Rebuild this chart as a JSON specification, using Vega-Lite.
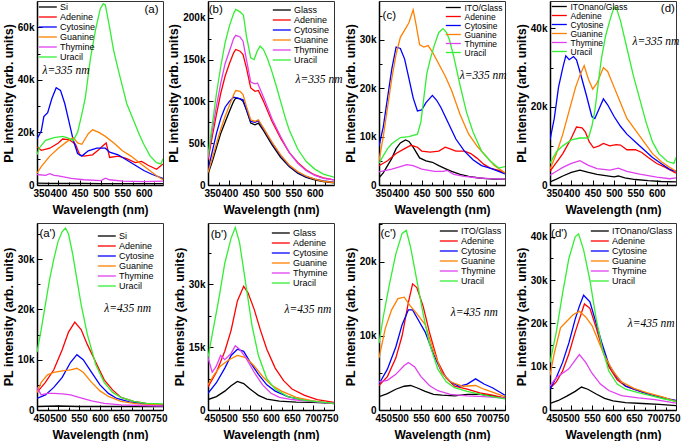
{
"$schema":"https://vega.github.io/schema/vega-lite/v6.json",
"padding":{"left":1,"top":0,"right":0,"bottom":0},
"background":"white",
"config":{
 "font":"Liberation Sans",
 "view":{"stroke":"#333","strokeWidth":1},
 "axis":{"domainColor":"#000","domainWidth":1.5,"tickColor":"#000","tickWidth":1,"tickCount":40,"labelFont":"Liberation Sans","labelFontWeight":"bold","labelFontSize":10,"labelColor":"#000","titleFont":"Liberation Sans","titleFontWeight":"bold","titleColor":"#000","grid":false,"labelOverlap":false,"labelPadding":8},
 "axisX":{"titleFontSize":12,"titlePadding":4,"labelFlush":true,"labelFlushOffset":4},
 "axisY":{"titleFontSize":12.5,"titlePadding":2},
 "legend":{"title":null,"symbolStrokeWidth":1.5,"labelFont":"Liberation Sans","labelFontSize":9,"labelColor":"#000","rowPadding":0,"padding":0},
 "line":{"strokeWidth":1.3},
 "text":{"font":"Liberation Sans","fontSize":11.5,"color":"#000"}
},
"datasets":{
"a":[
{"s":"Si","x":350,"y":700},{"s":"Si","x":380,"y":650},{"s":"Si","x":420,"y":600},{"s":"Si","x":460,"y":600},{"s":"Si","x":500,"y":550},{"s":"Si","x":540,"y":500},{"s":"Si","x":580,"y":500},{"s":"Si","x":620,"y":500},{"s":"Si","x":645,"y":500},
{"s":"Adenine","x":350,"y":14500},{"s":"Adenine","x":360,"y":13200},{"s":"Adenine","x":380,"y":14000},{"s":"Adenine","x":400,"y":16000},{"s":"Adenine","x":410,"y":17500},{"s":"Adenine","x":425,"y":17300},{"s":"Adenine","x":440,"y":15500},{"s":"Adenine","x":450,"y":11500},{"s":"Adenine","x":460,"y":11000},{"s":"Adenine","x":480,"y":11500},{"s":"Adenine","x":495,"y":13500},{"s":"Adenine","x":505,"y":15000},{"s":"Adenine","x":512,"y":16000},{"s":"Adenine","x":520,"y":10500},{"s":"Adenine","x":540,"y":11000},{"s":"Adenine","x":560,"y":10000},{"s":"Adenine","x":580,"y":8500},{"s":"Adenine","x":595,"y":9000},{"s":"Adenine","x":610,"y":7500},{"s":"Adenine","x":630,"y":6000},{"s":"Adenine","x":645,"y":8000},
{"s":"Cytosine","x":350,"y":17500},{"s":"Cytosine","x":360,"y":20500},{"s":"Cytosine","x":366,"y":26000},{"s":"Cytosine","x":375,"y":27500},{"s":"Cytosine","x":385,"y":33000},{"s":"Cytosine","x":395,"y":37000},{"s":"Cytosine","x":405,"y":36000},{"s":"Cytosine","x":415,"y":31000},{"s":"Cytosine","x":425,"y":24000},{"s":"Cytosine","x":435,"y":17000},{"s":"Cytosine","x":445,"y":12000},{"s":"Cytosine","x":455,"y":11000},{"s":"Cytosine","x":470,"y":13000},{"s":"Cytosine","x":490,"y":14000},{"s":"Cytosine","x":510,"y":14000},{"s":"Cytosine","x":520,"y":12500},{"s":"Cytosine","x":540,"y":11500},{"s":"Cytosine","x":560,"y":9500},{"s":"Cytosine","x":580,"y":7500},{"s":"Cytosine","x":600,"y":5500},{"s":"Cytosine","x":620,"y":4000},{"s":"Cytosine","x":645,"y":2500},
{"s":"Guanine","x":350,"y":4500},{"s":"Guanine","x":360,"y":7000},{"s":"Guanine","x":380,"y":11000},{"s":"Guanine","x":400,"y":14000},{"s":"Guanine","x":420,"y":16500},{"s":"Guanine","x":435,"y":18000},{"s":"Guanine","x":445,"y":16000},{"s":"Guanine","x":455,"y":15500},{"s":"Guanine","x":470,"y":19500},{"s":"Guanine","x":480,"y":21000},{"s":"Guanine","x":495,"y":20000},{"s":"Guanine","x":510,"y":18500},{"s":"Guanine","x":530,"y":16000},{"s":"Guanine","x":550,"y":13000},{"s":"Guanine","x":570,"y":11000},{"s":"Guanine","x":590,"y":8500},{"s":"Guanine","x":610,"y":6000},{"s":"Guanine","x":630,"y":3500},{"s":"Guanine","x":645,"y":2000},
{"s":"Thymine","x":350,"y":4000},{"s":"Thymine","x":370,"y":3700},{"s":"Thymine","x":380,"y":4300},{"s":"Thymine","x":390,"y":3700},{"s":"Thymine","x":400,"y":3500},{"s":"Thymine","x":430,"y":2500},{"s":"Thymine","x":460,"y":2000},{"s":"Thymine","x":500,"y":1700},{"s":"Thymine","x":510,"y":2600},{"s":"Thymine","x":520,"y":2000},{"s":"Thymine","x":550,"y":1500},{"s":"Thymine","x":600,"y":1300},{"s":"Thymine","x":645,"y":1500},
{"s":"Uracil","x":350,"y":11500},{"s":"Uracil","x":355,"y":14000},{"s":"Uracil","x":370,"y":17000},{"s":"Uracil","x":390,"y":18000},{"s":"Uracil","x":410,"y":18500},{"s":"Uracil","x":420,"y":18000},{"s":"Uracil","x":435,"y":17000},{"s":"Uracil","x":445,"y":20000},{"s":"Uracil","x":455,"y":27000},{"s":"Uracil","x":463,"y":33000},{"s":"Uracil","x":475,"y":48000},{"s":"Uracil","x":487,"y":59000},{"s":"Uracil","x":498,"y":67000},{"s":"Uracil","x":505,"y":69000},{"s":"Uracil","x":510,"y":68500},{"s":"Uracil","x":520,"y":60000},{"s":"Uracil","x":529,"y":51500},{"s":"Uracil","x":540,"y":44000},{"s":"Uracil","x":550,"y":37500},{"s":"Uracil","x":560,"y":31000},{"s":"Uracil","x":575,"y":25000},{"s":"Uracil","x":590,"y":19000},{"s":"Uracil","x":600,"y":15500},{"s":"Uracil","x":615,"y":11000},{"s":"Uracil","x":630,"y":8500},{"s":"Uracil","x":640,"y":8000},{"s":"Uracil","x":645,"y":10000}
],
"b":[
{"s":"Glass","x":350,"y":13000},{"s":"Glass","x":360,"y":28000},{"s":"Glass","x":370,"y":45000},{"s":"Glass","x":380,"y":62000},{"s":"Glass","x":390,"y":75000},{"s":"Glass","x":400,"y":88000},{"s":"Glass","x":410,"y":100000},{"s":"Glass","x":415,"y":104000},{"s":"Glass","x":425,"y":103000},{"s":"Glass","x":432,"y":100000},{"s":"Glass","x":440,"y":90000},{"s":"Glass","x":450,"y":74000},{"s":"Glass","x":460,"y":72000},{"s":"Glass","x":468,"y":74000},{"s":"Glass","x":480,"y":65000},{"s":"Glass","x":500,"y":48000},{"s":"Glass","x":520,"y":33000},{"s":"Glass","x":540,"y":22000},{"s":"Glass","x":560,"y":14000},{"s":"Glass","x":580,"y":9000},{"s":"Glass","x":600,"y":6000},{"s":"Glass","x":620,"y":4000},{"s":"Glass","x":645,"y":2500},
{"s":"Adenine","x":350,"y":30000},{"s":"Adenine","x":360,"y":58000},{"s":"Adenine","x":370,"y":85000},{"s":"Adenine","x":380,"y":110000},{"s":"Adenine","x":390,"y":130000},{"s":"Adenine","x":400,"y":145000},{"s":"Adenine","x":410,"y":158000},{"s":"Adenine","x":415,"y":162000},{"s":"Adenine","x":425,"y":160000},{"s":"Adenine","x":432,"y":156000},{"s":"Adenine","x":440,"y":140000},{"s":"Adenine","x":450,"y":116000},{"s":"Adenine","x":460,"y":112000},{"s":"Adenine","x":468,"y":113000},{"s":"Adenine","x":480,"y":100000},{"s":"Adenine","x":500,"y":76000},{"s":"Adenine","x":520,"y":56000},{"s":"Adenine","x":540,"y":39000},{"s":"Adenine","x":560,"y":27000},{"s":"Adenine","x":580,"y":18000},{"s":"Adenine","x":600,"y":12000},{"s":"Adenine","x":620,"y":8500},{"s":"Adenine","x":645,"y":6000},
{"s":"Cytosine","x":350,"y":18000},{"s":"Cytosine","x":360,"y":40000},{"s":"Cytosine","x":370,"y":62000},{"s":"Cytosine","x":380,"y":80000},{"s":"Cytosine","x":390,"y":93000},{"s":"Cytosine","x":400,"y":100000},{"s":"Cytosine","x":410,"y":105000},{"s":"Cytosine","x":420,"y":104000},{"s":"Cytosine","x":432,"y":102000},{"s":"Cytosine","x":440,"y":90000},{"s":"Cytosine","x":450,"y":76000},{"s":"Cytosine","x":460,"y":75000},{"s":"Cytosine","x":468,"y":77000},{"s":"Cytosine","x":480,"y":67000},{"s":"Cytosine","x":500,"y":50000},{"s":"Cytosine","x":520,"y":35000},{"s":"Cytosine","x":540,"y":23000},{"s":"Cytosine","x":560,"y":15000},{"s":"Cytosine","x":580,"y":10000},{"s":"Cytosine","x":600,"y":7000},{"s":"Cytosine","x":620,"y":5000},{"s":"Cytosine","x":645,"y":3500},
{"s":"Guanine","x":350,"y":15000},{"s":"Guanine","x":360,"y":32000},{"s":"Guanine","x":370,"y":50000},{"s":"Guanine","x":380,"y":67000},{"s":"Guanine","x":390,"y":82000},{"s":"Guanine","x":400,"y":95000},{"s":"Guanine","x":410,"y":108000},{"s":"Guanine","x":415,"y":113000},{"s":"Guanine","x":425,"y":112000},{"s":"Guanine","x":432,"y":108000},{"s":"Guanine","x":440,"y":94000},{"s":"Guanine","x":450,"y":78000},{"s":"Guanine","x":460,"y":76000},{"s":"Guanine","x":468,"y":78000},{"s":"Guanine","x":480,"y":68000},{"s":"Guanine","x":500,"y":51000},{"s":"Guanine","x":520,"y":36000},{"s":"Guanine","x":540,"y":24000},{"s":"Guanine","x":560,"y":16000},{"s":"Guanine","x":580,"y":10500},{"s":"Guanine","x":600,"y":7000},{"s":"Guanine","x":620,"y":4500},{"s":"Guanine","x":645,"y":3000},
{"s":"Thymine","x":350,"y":32000},{"s":"Thymine","x":360,"y":65000},{"s":"Thymine","x":370,"y":95000},{"s":"Thymine","x":380,"y":122000},{"s":"Thymine","x":390,"y":145000},{"s":"Thymine","x":400,"y":160000},{"s":"Thymine","x":410,"y":175000},{"s":"Thymine","x":415,"y":179000},{"s":"Thymine","x":425,"y":177000},{"s":"Thymine","x":432,"y":172000},{"s":"Thymine","x":440,"y":150000},{"s":"Thymine","x":450,"y":123000},{"s":"Thymine","x":460,"y":121000},{"s":"Thymine","x":466,"y":122000},{"s":"Thymine","x":480,"y":105000},{"s":"Thymine","x":500,"y":79000},{"s":"Thymine","x":520,"y":58000},{"s":"Thymine","x":540,"y":39000},{"s":"Thymine","x":560,"y":26000},{"s":"Thymine","x":580,"y":17000},{"s":"Thymine","x":600,"y":11500},{"s":"Thymine","x":620,"y":8000},{"s":"Thymine","x":645,"y":6000},
{"s":"Uracil","x":350,"y":35000},{"s":"Uracil","x":360,"y":72000},{"s":"Uracil","x":370,"y":110000},{"s":"Uracil","x":380,"y":142000},{"s":"Uracil","x":390,"y":170000},{"s":"Uracil","x":400,"y":190000},{"s":"Uracil","x":410,"y":205000},{"s":"Uracil","x":415,"y":210000},{"s":"Uracil","x":425,"y":207000},{"s":"Uracil","x":433,"y":203000},{"s":"Uracil","x":440,"y":178000},{"s":"Uracil","x":450,"y":152000},{"s":"Uracil","x":458,"y":150000},{"s":"Uracil","x":465,"y":160000},{"s":"Uracil","x":472,"y":166000},{"s":"Uracil","x":480,"y":162000},{"s":"Uracil","x":490,"y":150000},{"s":"Uracil","x":500,"y":135000},{"s":"Uracil","x":510,"y":118000},{"s":"Uracil","x":520,"y":100000},{"s":"Uracil","x":530,"y":82000},{"s":"Uracil","x":540,"y":66000},{"s":"Uracil","x":560,"y":43000},{"s":"Uracil","x":580,"y":28000},{"s":"Uracil","x":600,"y":19000},{"s":"Uracil","x":620,"y":13000},{"s":"Uracil","x":645,"y":9500}
],
"c":[
{"s":"ITO/Glass","x":350,"y":1500},{"s":"ITO/Glass","x":360,"y":2500},{"s":"ITO/Glass","x":370,"y":4000},{"s":"ITO/Glass","x":380,"y":5500},{"s":"ITO/Glass","x":390,"y":7500},{"s":"ITO/Glass","x":400,"y":8700},{"s":"ITO/Glass","x":412,"y":9300},{"s":"ITO/Glass","x":420,"y":9000},{"s":"ITO/Glass","x":430,"y":7800},{"s":"ITO/Glass","x":445,"y":5600},{"s":"ITO/Glass","x":460,"y":5000},{"s":"ITO/Glass","x":475,"y":4700},{"s":"ITO/Glass","x":490,"y":4000},{"s":"ITO/Glass","x":505,"y":3400},{"s":"ITO/Glass","x":520,"y":2800},{"s":"ITO/Glass","x":540,"y":2200},{"s":"ITO/Glass","x":560,"y":1800},{"s":"ITO/Glass","x":580,"y":1500},{"s":"ITO/Glass","x":600,"y":1300},{"s":"ITO/Glass","x":620,"y":1200},{"s":"ITO/Glass","x":645,"y":1200},
{"s":"Adenine","x":350,"y":4000},{"s":"Adenine","x":360,"y":4500},{"s":"Adenine","x":370,"y":5000},{"s":"Adenine","x":390,"y":6500},{"s":"Adenine","x":410,"y":7500},{"s":"Adenine","x":425,"y":8200},{"s":"Adenine","x":440,"y":7800},{"s":"Adenine","x":450,"y":7000},{"s":"Adenine","x":470,"y":6800},{"s":"Adenine","x":490,"y":7000},{"s":"Adenine","x":505,"y":7800},{"s":"Adenine","x":515,"y":7500},{"s":"Adenine","x":530,"y":7000},{"s":"Adenine","x":550,"y":7000},{"s":"Adenine","x":565,"y":6500},{"s":"Adenine","x":580,"y":5500},{"s":"Adenine","x":595,"y":4300},{"s":"Adenine","x":610,"y":3500},{"s":"Adenine","x":630,"y":3000},{"s":"Adenine","x":645,"y":2500},
{"s":"Cytosine","x":350,"y":8000},{"s":"Cytosine","x":360,"y":12000},{"s":"Cytosine","x":370,"y":18000},{"s":"Cytosine","x":380,"y":24000},{"s":"Cytosine","x":390,"y":28500},{"s":"Cytosine","x":400,"y":28200},{"s":"Cytosine","x":410,"y":26000},{"s":"Cytosine","x":420,"y":22000},{"s":"Cytosine","x":430,"y":18000},{"s":"Cytosine","x":440,"y":15300},{"s":"Cytosine","x":450,"y":15500},{"s":"Cytosine","x":460,"y":17000},{"s":"Cytosine","x":475,"y":18500},{"s":"Cytosine","x":485,"y":17500},{"s":"Cytosine","x":495,"y":16000},{"s":"Cytosine","x":510,"y":13200},{"s":"Cytosine","x":530,"y":9500},{"s":"Cytosine","x":550,"y":7000},{"s":"Cytosine","x":570,"y":5200},{"s":"Cytosine","x":590,"y":4000},{"s":"Cytosine","x":610,"y":3500},{"s":"Cytosine","x":630,"y":2800},{"s":"Cytosine","x":645,"y":2300},
{"s":"Guanine","x":350,"y":5000},{"s":"Guanine","x":360,"y":10000},{"s":"Guanine","x":370,"y":16000},{"s":"Guanine","x":380,"y":22000},{"s":"Guanine","x":390,"y":27000},{"s":"Guanine","x":400,"y":30500},{"s":"Guanine","x":410,"y":32000},{"s":"Guanine","x":420,"y":33500},{"s":"Guanine","x":430,"y":36200},{"s":"Guanine","x":437,"y":33000},{"s":"Guanine","x":445,"y":29000},{"s":"Guanine","x":455,"y":28500},{"s":"Guanine","x":465,"y":28800},{"s":"Guanine","x":475,"y":27500},{"s":"Guanine","x":490,"y":25000},{"s":"Guanine","x":505,"y":22500},{"s":"Guanine","x":520,"y":19500},{"s":"Guanine","x":540,"y":14500},{"s":"Guanine","x":560,"y":10500},{"s":"Guanine","x":580,"y":8000},{"s":"Guanine","x":600,"y":6000},{"s":"Guanine","x":620,"y":4000},{"s":"Guanine","x":645,"y":2500},
{"s":"Thymine","x":350,"y":2700},{"s":"Thymine","x":380,"y":3300},{"s":"Thymine","x":400,"y":3800},{"s":"Thymine","x":415,"y":4200},{"s":"Thymine","x":430,"y":4000},{"s":"Thymine","x":450,"y":3300},{"s":"Thymine","x":480,"y":2800},{"s":"Thymine","x":500,"y":2800},{"s":"Thymine","x":510,"y":3000},{"s":"Thymine","x":525,"y":2200},{"s":"Thymine","x":550,"y":1800},{"s":"Thymine","x":580,"y":1500},{"s":"Thymine","x":610,"y":1300},{"s":"Thymine","x":645,"y":1200},
{"s":"Uracil","x":350,"y":4500},{"s":"Uracil","x":360,"y":6000},{"s":"Uracil","x":370,"y":7500},{"s":"Uracil","x":380,"y":8500},{"s":"Uracil","x":400,"y":9800},{"s":"Uracil","x":420,"y":10000},{"s":"Uracil","x":440,"y":10500},{"s":"Uracil","x":448,"y":13000},{"s":"Uracil","x":455,"y":18000},{"s":"Uracil","x":462,"y":23000},{"s":"Uracil","x":470,"y":26000},{"s":"Uracil","x":480,"y":29000},{"s":"Uracil","x":490,"y":31500},{"s":"Uracil","x":500,"y":32300},{"s":"Uracil","x":508,"y":31500},{"s":"Uracil","x":515,"y":30000},{"s":"Uracil","x":525,"y":26500},{"s":"Uracil","x":540,"y":20500},{"s":"Uracil","x":555,"y":15000},{"s":"Uracil","x":570,"y":11000},{"s":"Uracil","x":590,"y":7000},{"s":"Uracil","x":610,"y":5000},{"s":"Uracil","x":630,"y":3500},{"s":"Uracil","x":645,"y":3800}
],
"d":[
{"s":"ITOnano/Glass","x":350,"y":800},{"s":"ITOnano/Glass","x":365,"y":1500},{"s":"ITOnano/Glass","x":380,"y":2300},{"s":"ITOnano/Glass","x":400,"y":3200},{"s":"ITOnano/Glass","x":420,"y":3800},{"s":"ITOnano/Glass","x":440,"y":3200},{"s":"ITOnano/Glass","x":460,"y":2700},{"s":"ITOnano/Glass","x":480,"y":2400},{"s":"ITOnano/Glass","x":500,"y":2100},{"s":"ITOnano/Glass","x":510,"y":2300},{"s":"ITOnano/Glass","x":525,"y":1800},{"s":"ITOnano/Glass","x":550,"y":1400},{"s":"ITOnano/Glass","x":580,"y":1100},{"s":"ITOnano/Glass","x":610,"y":900},{"s":"ITOnano/Glass","x":645,"y":800},
{"s":"Adenine","x":350,"y":3500},{"s":"Adenine","x":360,"y":5000},{"s":"Adenine","x":370,"y":6500},{"s":"Adenine","x":380,"y":8000},{"s":"Adenine","x":390,"y":10000},{"s":"Adenine","x":400,"y":12000},{"s":"Adenine","x":412,"y":14800},{"s":"Adenine","x":425,"y":14600},{"s":"Adenine","x":433,"y":13500},{"s":"Adenine","x":442,"y":11000},{"s":"Adenine","x":452,"y":9500},{"s":"Adenine","x":465,"y":10000},{"s":"Adenine","x":475,"y":10600},{"s":"Adenine","x":490,"y":10000},{"s":"Adenine","x":505,"y":10300},{"s":"Adenine","x":515,"y":10200},{"s":"Adenine","x":530,"y":9000},{"s":"Adenine","x":550,"y":9000},{"s":"Adenine","x":565,"y":8300},{"s":"Adenine","x":580,"y":7000},{"s":"Adenine","x":600,"y":5500},{"s":"Adenine","x":620,"y":4500},{"s":"Adenine","x":645,"y":3000},
{"s":"Cytosine","x":350,"y":11500},{"s":"Cytosine","x":360,"y":17000},{"s":"Cytosine","x":370,"y":25000},{"s":"Cytosine","x":380,"y":30000},{"s":"Cytosine","x":387,"y":33000},{"s":"Cytosine","x":395,"y":32000},{"s":"Cytosine","x":405,"y":32800},{"s":"Cytosine","x":412,"y":32000},{"s":"Cytosine","x":420,"y":29000},{"s":"Cytosine","x":435,"y":23000},{"s":"Cytosine","x":448,"y":17500},{"s":"Cytosine","x":455,"y":17000},{"s":"Cytosine","x":465,"y":19500},{"s":"Cytosine","x":475,"y":22000},{"s":"Cytosine","x":485,"y":20500},{"s":"Cytosine","x":500,"y":17500},{"s":"Cytosine","x":515,"y":15000},{"s":"Cytosine","x":530,"y":13000},{"s":"Cytosine","x":550,"y":11000},{"s":"Cytosine","x":570,"y":9000},{"s":"Cytosine","x":590,"y":7000},{"s":"Cytosine","x":610,"y":5500},{"s":"Cytosine","x":630,"y":4000},{"s":"Cytosine","x":645,"y":3500},
{"s":"Guanine","x":350,"y":4000},{"s":"Guanine","x":365,"y":8000},{"s":"Guanine","x":380,"y":13000},{"s":"Guanine","x":395,"y":19000},{"s":"Guanine","x":410,"y":25000},{"s":"Guanine","x":420,"y":28000},{"s":"Guanine","x":430,"y":30500},{"s":"Guanine","x":440,"y":27000},{"s":"Guanine","x":450,"y":24500},{"s":"Guanine","x":460,"y":26000},{"s":"Guanine","x":475,"y":30000},{"s":"Guanine","x":485,"y":29000},{"s":"Guanine","x":500,"y":25000},{"s":"Guanine","x":515,"y":21000},{"s":"Guanine","x":530,"y":17000},{"s":"Guanine","x":550,"y":14000},{"s":"Guanine","x":570,"y":11000},{"s":"Guanine","x":590,"y":8000},{"s":"Guanine","x":610,"y":6000},{"s":"Guanine","x":630,"y":4500},{"s":"Guanine","x":645,"y":3500},
{"s":"Thymine","x":350,"y":2500},{"s":"Thymine","x":365,"y":3500},{"s":"Thymine","x":380,"y":4500},{"s":"Thymine","x":400,"y":5500},{"s":"Thymine","x":420,"y":6200},{"s":"Thymine","x":440,"y":5000},{"s":"Thymine","x":460,"y":4200},{"s":"Thymine","x":490,"y":3800},{"s":"Thymine","x":510,"y":4300},{"s":"Thymine","x":530,"y":3500},{"s":"Thymine","x":560,"y":2800},{"s":"Thymine","x":600,"y":2000},{"s":"Thymine","x":630,"y":1600},{"s":"Thymine","x":645,"y":1800},
{"s":"Uracil","x":350,"y":5500},{"s":"Uracil","x":365,"y":8500},{"s":"Uracil","x":380,"y":10000},{"s":"Uracil","x":400,"y":11500},{"s":"Uracil","x":420,"y":12000},{"s":"Uracil","x":440,"y":12000},{"s":"Uracil","x":448,"y":15000},{"s":"Uracil","x":455,"y":19000},{"s":"Uracil","x":463,"y":26000},{"s":"Uracil","x":470,"y":32000},{"s":"Uracil","x":480,"y":38000},{"s":"Uracil","x":490,"y":42000},{"s":"Uracil","x":500,"y":45500},{"s":"Uracil","x":506,"y":45000},{"s":"Uracil","x":515,"y":42000},{"s":"Uracil","x":530,"y":35000},{"s":"Uracil","x":545,"y":28000},{"s":"Uracil","x":560,"y":22000},{"s":"Uracil","x":575,"y":16000},{"s":"Uracil","x":590,"y":11000},{"s":"Uracil","x":605,"y":8000},{"s":"Uracil","x":625,"y":6000},{"s":"Uracil","x":640,"y":5500},{"s":"Uracil","x":645,"y":7000}
],
"a2":[
{"s":"Si","x":450,"y":700},{"s":"Si","x":500,"y":800},{"s":"Si","x":550,"y":700},{"s":"Si","x":600,"y":700},{"s":"Si","x":650,"y":700},{"s":"Si","x":700,"y":700},{"s":"Si","x":750,"y":700},
{"s":"Adenine","x":450,"y":3500},{"s":"Adenine","x":470,"y":5500},{"s":"Adenine","x":490,"y":8000},{"s":"Adenine","x":510,"y":12000},{"s":"Adenine","x":525,"y":15500},{"s":"Adenine","x":540,"y":17500},{"s":"Adenine","x":555,"y":16000},{"s":"Adenine","x":570,"y":13000},{"s":"Adenine","x":590,"y":9500},{"s":"Adenine","x":610,"y":6000},{"s":"Adenine","x":630,"y":4000},{"s":"Adenine","x":650,"y":2500},{"s":"Adenine","x":680,"y":1700},{"s":"Adenine","x":710,"y":1300},{"s":"Adenine","x":750,"y":1000},
{"s":"Cytosine","x":450,"y":2300},{"s":"Cytosine","x":470,"y":3000},{"s":"Cytosine","x":490,"y":4500},{"s":"Cytosine","x":510,"y":6500},{"s":"Cytosine","x":530,"y":9500},{"s":"Cytosine","x":545,"y":11000},{"s":"Cytosine","x":560,"y":10000},{"s":"Cytosine","x":580,"y":7500},{"s":"Cytosine","x":600,"y":5000},{"s":"Cytosine","x":620,"y":3300},{"s":"Cytosine","x":640,"y":2300},{"s":"Cytosine","x":670,"y":1600},{"s":"Cytosine","x":710,"y":1200},{"s":"Cytosine","x":750,"y":900},
{"s":"Guanine","x":450,"y":3500},{"s":"Guanine","x":460,"y":5500},{"s":"Guanine","x":475,"y":7000},{"s":"Guanine","x":490,"y":7500},{"s":"Guanine","x":510,"y":7800},{"s":"Guanine","x":530,"y":8000},{"s":"Guanine","x":545,"y":8300},{"s":"Guanine","x":560,"y":7500},{"s":"Guanine","x":580,"y":5500},{"s":"Guanine","x":600,"y":3800},{"s":"Guanine","x":620,"y":2700},{"s":"Guanine","x":650,"y":1700},{"s":"Guanine","x":690,"y":1200},{"s":"Guanine","x":750,"y":1000},
{"s":"Thymine","x":450,"y":4500},{"s":"Thymine","x":460,"y":3000},{"s":"Thymine","x":475,"y":3300},{"s":"Thymine","x":490,"y":3300},{"s":"Thymine","x":510,"y":3200},{"s":"Thymine","x":530,"y":3000},{"s":"Thymine","x":550,"y":2500},{"s":"Thymine","x":580,"y":1800},{"s":"Thymine","x":610,"y":1300},{"s":"Thymine","x":650,"y":1000},{"s":"Thymine","x":700,"y":900},{"s":"Thymine","x":750,"y":800},
{"s":"Uracil","x":450,"y":11500},{"s":"Uracil","x":460,"y":16000},{"s":"Uracil","x":470,"y":21000},{"s":"Uracil","x":480,"y":26000},{"s":"Uracil","x":490,"y":30000},{"s":"Uracil","x":500,"y":33500},{"s":"Uracil","x":510,"y":35500},{"s":"Uracil","x":518,"y":36200},{"s":"Uracil","x":525,"y":35000},{"s":"Uracil","x":535,"y":31000},{"s":"Uracil","x":545,"y":26000},{"s":"Uracil","x":555,"y":21000},{"s":"Uracil","x":570,"y":15000},{"s":"Uracil","x":590,"y":9000},{"s":"Uracil","x":610,"y":5500},{"s":"Uracil","x":630,"y":3500},{"s":"Uracil","x":650,"y":2500},{"s":"Uracil","x":680,"y":1700},{"s":"Uracil","x":710,"y":1300},{"s":"Uracil","x":750,"y":1200}
],
"b2":[
{"s":"Glass","x":450,"y":2500},{"s":"Glass","x":470,"y":3200},{"s":"Glass","x":490,"y":4500},{"s":"Glass","x":505,"y":5800},{"s":"Glass","x":520,"y":6800},{"s":"Glass","x":535,"y":6300},{"s":"Glass","x":550,"y":5000},{"s":"Glass","x":570,"y":3500},{"s":"Glass","x":590,"y":2600},{"s":"Glass","x":620,"y":2100},{"s":"Glass","x":660,"y":1900},{"s":"Glass","x":700,"y":1800},{"s":"Glass","x":750,"y":1600},
{"s":"Adenine","x":450,"y":5500},{"s":"Adenine","x":470,"y":9000},{"s":"Adenine","x":490,"y":14000},{"s":"Adenine","x":505,"y":19000},{"s":"Adenine","x":520,"y":26000},{"s":"Adenine","x":535,"y":29500},{"s":"Adenine","x":545,"y":28000},{"s":"Adenine","x":560,"y":24000},{"s":"Adenine","x":575,"y":19000},{"s":"Adenine","x":590,"y":14500},{"s":"Adenine","x":610,"y":10000},{"s":"Adenine","x":630,"y":7000},{"s":"Adenine","x":650,"y":5000},{"s":"Adenine","x":680,"y":3500},{"s":"Adenine","x":710,"y":2500},{"s":"Adenine","x":750,"y":1800},
{"s":"Cytosine","x":450,"y":4000},{"s":"Cytosine","x":470,"y":6500},{"s":"Cytosine","x":490,"y":10000},{"s":"Cytosine","x":505,"y":13000},{"s":"Cytosine","x":520,"y":14500},{"s":"Cytosine","x":535,"y":14000},{"s":"Cytosine","x":550,"y":11500},{"s":"Cytosine","x":570,"y":8500},{"s":"Cytosine","x":590,"y":6000},{"s":"Cytosine","x":610,"y":4500},{"s":"Cytosine","x":640,"y":3200},{"s":"Cytosine","x":680,"y":2300},{"s":"Cytosine","x":750,"y":1500},
{"s":"Guanine","x":450,"y":6000},{"s":"Guanine","x":465,"y":8500},{"s":"Guanine","x":480,"y":10500},{"s":"Guanine","x":500,"y":12000},{"s":"Guanine","x":520,"y":13000},{"s":"Guanine","x":540,"y":12500},{"s":"Guanine","x":560,"y":10500},{"s":"Guanine","x":580,"y":8000},{"s":"Guanine","x":600,"y":6000},{"s":"Guanine","x":625,"y":4500},{"s":"Guanine","x":660,"y":3000},{"s":"Guanine","x":700,"y":2200},{"s":"Guanine","x":750,"y":1500},
{"s":"Thymine","x":450,"y":12500},{"s":"Thymine","x":460,"y":9000},{"s":"Thymine","x":470,"y":10500},{"s":"Thymine","x":480,"y":13000},{"s":"Thymine","x":490,"y":12000},{"s":"Thymine","x":505,"y":13500},{"s":"Thymine","x":515,"y":15300},{"s":"Thymine","x":525,"y":14500},{"s":"Thymine","x":540,"y":12500},{"s":"Thymine","x":560,"y":9000},{"s":"Thymine","x":580,"y":6000},{"s":"Thymine","x":600,"y":4000},{"s":"Thymine","x":620,"y":3000},{"s":"Thymine","x":650,"y":2500},{"s":"Thymine","x":700,"y":2000},{"s":"Thymine","x":750,"y":1600},
{"s":"Uracil","x":450,"y":12500},{"s":"Uracil","x":460,"y":18000},{"s":"Uracil","x":475,"y":26000},{"s":"Uracil","x":490,"y":35000},{"s":"Uracil","x":505,"y":41000},{"s":"Uracil","x":515,"y":43500},{"s":"Uracil","x":525,"y":40000},{"s":"Uracil","x":540,"y":30000},{"s":"Uracil","x":555,"y":20000},{"s":"Uracil","x":570,"y":13000},{"s":"Uracil","x":590,"y":7500},{"s":"Uracil","x":610,"y":5000},{"s":"Uracil","x":640,"y":3200},{"s":"Uracil","x":680,"y":2300},{"s":"Uracil","x":750,"y":1600}
],
"c2":[
{"s":"ITO/Glass","x":450,"y":1800},{"s":"ITO/Glass","x":470,"y":2200},{"s":"ITO/Glass","x":490,"y":2800},{"s":"ITO/Glass","x":510,"y":3200},{"s":"ITO/Glass","x":525,"y":3300},{"s":"ITO/Glass","x":540,"y":3000},{"s":"ITO/Glass","x":560,"y":2500},{"s":"ITO/Glass","x":580,"y":2100},{"s":"ITO/Glass","x":600,"y":2000},{"s":"ITO/Glass","x":630,"y":1900},{"s":"ITO/Glass","x":660,"y":2100},{"s":"ITO/Glass","x":690,"y":2100},{"s":"ITO/Glass","x":720,"y":1900},{"s":"ITO/Glass","x":750,"y":1600},
{"s":"Adenine","x":450,"y":3300},{"s":"Adenine","x":470,"y":4500},{"s":"Adenine","x":490,"y":7000},{"s":"Adenine","x":505,"y":10000},{"s":"Adenine","x":520,"y":14500},{"s":"Adenine","x":530,"y":17000},{"s":"Adenine","x":540,"y":16500},{"s":"Adenine","x":555,"y":14000},{"s":"Adenine","x":570,"y":10500},{"s":"Adenine","x":590,"y":6500},{"s":"Adenine","x":610,"y":4300},{"s":"Adenine","x":630,"y":3200},{"s":"Adenine","x":660,"y":2800},{"s":"Adenine","x":690,"y":2300},{"s":"Adenine","x":720,"y":2000},{"s":"Adenine","x":750,"y":1600},
{"s":"Cytosine","x":450,"y":3500},{"s":"Cytosine","x":470,"y":5500},{"s":"Cytosine","x":490,"y":8500},{"s":"Cytosine","x":505,"y":11500},{"s":"Cytosine","x":520,"y":13500},{"s":"Cytosine","x":530,"y":13500},{"s":"Cytosine","x":545,"y":12000},{"s":"Cytosine","x":560,"y":10500},{"s":"Cytosine","x":580,"y":7500},{"s":"Cytosine","x":600,"y":5000},{"s":"Cytosine","x":620,"y":3800},{"s":"Cytosine","x":640,"y":3200},{"s":"Cytosine","x":660,"y":3500},{"s":"Cytosine","x":680,"y":4200},{"s":"Cytosine","x":700,"y":3500},{"s":"Cytosine","x":720,"y":3000},{"s":"Cytosine","x":750,"y":2000},
{"s":"Guanine","x":450,"y":7000},{"s":"Guanine","x":465,"y":11000},{"s":"Guanine","x":480,"y":13500},{"s":"Guanine","x":495,"y":15000},{"s":"Guanine","x":510,"y":15200},{"s":"Guanine","x":525,"y":14000},{"s":"Guanine","x":540,"y":13000},{"s":"Guanine","x":560,"y":11500},{"s":"Guanine","x":580,"y":8000},{"s":"Guanine","x":600,"y":5000},{"s":"Guanine","x":620,"y":3800},{"s":"Guanine","x":650,"y":3200},{"s":"Guanine","x":680,"y":3300},{"s":"Guanine","x":700,"y":2800},{"s":"Guanine","x":730,"y":2200},{"s":"Guanine","x":750,"y":1800},
{"s":"Thymine","x":450,"y":3800},{"s":"Thymine","x":470,"y":4000},{"s":"Thymine","x":490,"y":4800},{"s":"Thymine","x":510,"y":6000},{"s":"Thymine","x":520,"y":6400},{"s":"Thymine","x":535,"y":5800},{"s":"Thymine","x":550,"y":4500},{"s":"Thymine","x":570,"y":3300},{"s":"Thymine","x":590,"y":2600},{"s":"Thymine","x":620,"y":2100},{"s":"Thymine","x":660,"y":1900},{"s":"Thymine","x":700,"y":1800},{"s":"Thymine","x":750,"y":1600},
{"s":"Uracil","x":450,"y":9000},{"s":"Uracil","x":460,"y":12500},{"s":"Uracil","x":475,"y":17000},{"s":"Uracil","x":490,"y":21000},{"s":"Uracil","x":505,"y":23800},{"s":"Uracil","x":515,"y":24200},{"s":"Uracil","x":525,"y":22000},{"s":"Uracil","x":540,"y":17500},{"s":"Uracil","x":555,"y":13000},{"s":"Uracil","x":570,"y":9000},{"s":"Uracil","x":590,"y":5500},{"s":"Uracil","x":610,"y":3800},{"s":"Uracil","x":630,"y":3000},{"s":"Uracil","x":660,"y":2500},{"s":"Uracil","x":700,"y":2000},{"s":"Uracil","x":750,"y":1500}
],
"d2":[
{"s":"ITOnano/Glass","x":450,"y":1500},{"s":"ITOnano/Glass","x":470,"y":2200},{"s":"ITOnano/Glass","x":490,"y":3200},{"s":"ITOnano/Glass","x":510,"y":4300},{"s":"ITOnano/Glass","x":525,"y":5300},{"s":"ITOnano/Glass","x":540,"y":4800},{"s":"ITOnano/Glass","x":560,"y":3700},{"s":"ITOnano/Glass","x":580,"y":2700},{"s":"ITOnano/Glass","x":600,"y":2100},{"s":"ITOnano/Glass","x":630,"y":1700},{"s":"ITOnano/Glass","x":670,"y":1500},{"s":"ITOnano/Glass","x":710,"y":1300},{"s":"ITOnano/Glass","x":750,"y":1000},
{"s":"Adenine","x":450,"y":5000},{"s":"Adenine","x":465,"y":6500},{"s":"Adenine","x":480,"y":9000},{"s":"Adenine","x":495,"y":13000},{"s":"Adenine","x":510,"y":18000},{"s":"Adenine","x":520,"y":21000},{"s":"Adenine","x":532,"y":24500},{"s":"Adenine","x":545,"y":23500},{"s":"Adenine","x":560,"y":19000},{"s":"Adenine","x":575,"y":14000},{"s":"Adenine","x":590,"y":10000},{"s":"Adenine","x":610,"y":7000},{"s":"Adenine","x":630,"y":5500},{"s":"Adenine","x":660,"y":4500},{"s":"Adenine","x":690,"y":3500},{"s":"Adenine","x":720,"y":2800},{"s":"Adenine","x":750,"y":2000},
{"s":"Cytosine","x":450,"y":4800},{"s":"Cytosine","x":465,"y":7500},{"s":"Cytosine","x":480,"y":11000},{"s":"Cytosine","x":495,"y":15500},{"s":"Cytosine","x":510,"y":21000},{"s":"Cytosine","x":520,"y":24000},{"s":"Cytosine","x":530,"y":26500},{"s":"Cytosine","x":545,"y":25000},{"s":"Cytosine","x":560,"y":20000},{"s":"Cytosine","x":575,"y":15000},{"s":"Cytosine","x":590,"y":10500},{"s":"Cytosine","x":610,"y":7500},{"s":"Cytosine","x":630,"y":5500},{"s":"Cytosine","x":660,"y":4500},{"s":"Cytosine","x":690,"y":3500},{"s":"Cytosine","x":720,"y":2800},{"s":"Cytosine","x":750,"y":2200},
{"s":"Guanine","x":450,"y":8000},{"s":"Guanine","x":460,"y":13000},{"s":"Guanine","x":475,"y":19000},{"s":"Guanine","x":490,"y":20500},{"s":"Guanine","x":505,"y":22000},{"s":"Guanine","x":520,"y":22800},{"s":"Guanine","x":535,"y":21500},{"s":"Guanine","x":550,"y":19500},{"s":"Guanine","x":565,"y":16000},{"s":"Guanine","x":580,"y":12500},{"s":"Guanine","x":600,"y":9000},{"s":"Guanine","x":620,"y":6500},{"s":"Guanine","x":650,"y":5000},{"s":"Guanine","x":680,"y":4000},{"s":"Guanine","x":720,"y":3000},{"s":"Guanine","x":750,"y":2000},
{"s":"Thymine","x":450,"y":5500},{"s":"Thymine","x":465,"y":7500},{"s":"Thymine","x":480,"y":8500},{"s":"Thymine","x":495,"y":9500},{"s":"Thymine","x":510,"y":11500},{"s":"Thymine","x":520,"y":12800},{"s":"Thymine","x":535,"y":11000},{"s":"Thymine","x":550,"y":8500},{"s":"Thymine","x":570,"y":6000},{"s":"Thymine","x":590,"y":4500},{"s":"Thymine","x":620,"y":3300},{"s":"Thymine","x":660,"y":2800},{"s":"Thymine","x":700,"y":2400},{"s":"Thymine","x":750,"y":1600},
{"s":"Uracil","x":450,"y":11000},{"s":"Uracil","x":465,"y":18000},{"s":"Uracil","x":480,"y":27000},{"s":"Uracil","x":495,"y":35000},{"s":"Uracil","x":510,"y":40000},{"s":"Uracil","x":518,"y":40700},{"s":"Uracil","x":530,"y":37000},{"s":"Uracil","x":545,"y":30000},{"s":"Uracil","x":560,"y":21000},{"s":"Uracil","x":575,"y":14000},{"s":"Uracil","x":590,"y":9000},{"s":"Uracil","x":610,"y":6000},{"s":"Uracil","x":630,"y":4800},{"s":"Uracil","x":660,"y":4000},{"s":"Uracil","x":690,"y":3300},{"s":"Uracil","x":720,"y":2600},{"s":"Uracil","x":750,"y":2000}
]
},
"columns":4,
"spacing":{"row":38,"column":45},
"bounds":"flush",
"resolve":{"scale":{"color":"independent"},"legend":{"color":"independent"}},
"concat":[
{"width":126,"height":184,"data":{"name":"a"},"layer":[
 {"mark":{"type":"line","clip":true},"encoding":{
  "x":{"field":"x","type":"quantitative","scale":{"domain":[350,645],"nice":false,"zero":false},"axis":{"title":"Wavelength (nm)","tickCount":40,"values":[350,375,400,425,450,475,500,525,550,575,600,625],"labelExpr":"datum.value % 50 === 0 ? format(datum.value, 'd') : ''","tickSize":{"condition":{"test":"datum.value % 50 === 0","value":-5},"value":-3}}},
  "y":{"field":"y","type":"quantitative","scale":{"domain":[0,70000],"nice":false},"axis":{"title":"PL intensity (arb. units)","tickCount":40,"values":[0,10000,20000,30000,40000,50000,60000],"labelExpr":"datum.value === 0 ? '0' : (datum.value % 20000 === 0 ? (datum.value/1000) + 'k' : '')","tickSize":{"condition":{"test":"datum.value % 20000 === 0","value":-5},"value":-3}}},
  "color":{"field":"s","type":"nominal","scale":{"domain":["Si","Adenine","Cytosine","Guanine","Thymine","Uracil"],"range":["#000000","#ff0000","#0000ff","#ff8000","#e040f0","#33ee33"]},"legend":{"orient":"top-left","offset":1,"symbolType":"M-1,0H3.3","symbolSize":70,"labelOffset":12}}}},
 {"data":{"values":[{"x":363,"y":43400,"t":"λ=335 nm"}]},"mark":{"type":"text","font":"Liberation Serif","fontStyle":"italic","align":"left"},"encoding":{"x":{"field":"x","type":"quantitative"},"y":{"field":"y","type":"quantitative"},"text":{"field":"t"}}},
 {"data":{"values":[{"x":618,"y":66400,"t":"(a)"}]},"mark":{"type":"text"},"encoding":{"x":{"field":"x","type":"quantitative"},"y":{"field":"y","type":"quantitative"},"text":{"field":"t"}}}
]},
{"width":126,"height":184,"data":{"name":"b"},"layer":[
 {"mark":{"type":"line","clip":true},"encoding":{
  "x":{"field":"x","type":"quantitative","scale":{"domain":[350,645],"nice":false,"zero":false},"axis":{"title":"Wavelength (nm)","tickCount":40,"values":[350,375,400,425,450,475,500,525,550,575,600,625],"labelExpr":"datum.value % 50 === 0 ? format(datum.value, 'd') : ''","tickSize":{"condition":{"test":"datum.value % 50 === 0","value":-5},"value":-3}}},
  "y":{"field":"y","type":"quantitative","scale":{"domain":[0,220000],"nice":false},"axis":{"title":"PL intensity (arb. units)","tickCount":40,"values":[0,25000,50000,75000,100000,125000,150000,175000,200000],"labelExpr":"datum.value === 0 ? '0' : (datum.value % 50000 === 0 ? (datum.value/1000) + 'k' : '')","tickSize":{"condition":{"test":"datum.value % 50000 === 0","value":-5},"value":-3}}},
  "color":{"field":"s","type":"nominal","scale":{"domain":["Glass","Adenine","Cytosine","Guanine","Thymine","Uracil"],"range":["#000000","#ff0000","#0000ff","#ff8000","#e040f0","#33ee33"]},"legend":{"orient":"top-right","offset":4,"symbolType":"M-1,0H3.3","symbolSize":70,"labelOffset":12}}}},
 {"data":{"values":[{"x":555,"y":125000,"t":"λ=335 nm"}]},"mark":{"type":"text","font":"Liberation Serif","fontStyle":"italic","align":"left"},"encoding":{"x":{"field":"x","type":"quantitative"},"y":{"field":"y","type":"quantitative"},"text":{"field":"t"}}},
 {"data":{"values":[{"x":368,"y":208700,"t":"(b)"}]},"mark":{"type":"text"},"encoding":{"x":{"field":"x","type":"quantitative"},"y":{"field":"y","type":"quantitative"},"text":{"field":"t"}}}
]},
{"width":126,"height":184,"data":{"name":"c"},"layer":[
 {"mark":{"type":"line","clip":true},"encoding":{
  "x":{"field":"x","type":"quantitative","scale":{"domain":[350,645],"nice":false,"zero":false},"axis":{"title":"Wavelength (nm)","tickCount":40,"values":[350,375,400,425,450,475,500,525,550,575,600,625],"labelExpr":"datum.value % 50 === 0 ? format(datum.value, 'd') : ''","tickSize":{"condition":{"test":"datum.value % 50 === 0","value":-5},"value":-3}}},
  "y":{"field":"y","type":"quantitative","scale":{"domain":[0,38000],"nice":false},"axis":{"title":"PL intensity (arb. units)","tickCount":40,"values":[0,5000,10000,15000,20000,25000,30000,35000],"labelExpr":"datum.value === 0 ? '0' : (datum.value % 10000 === 0 ? (datum.value/1000) + 'k' : '')","tickSize":{"condition":{"test":"datum.value % 10000 === 0","value":-5},"value":-3}}},
  "color":{"field":"s","type":"nominal","scale":{"domain":["ITO/Glass","Adenine","Cytosine","Guanine","Thymine","Uracil"],"range":["#000000","#ff0000","#0000ff","#ff8000","#e040f0","#33ee33"]},"legend":{"orient":"top-right","offset":2,"symbolType":"M-1,0H3.05","symbolSize":55,"labelOffset":10.5,"labelFontSize":8.5}}}},
 {"data":{"values":[{"x":539,"y":22500,"t":"λ=335 nm"}]},"mark":{"type":"text","font":"Liberation Serif","fontStyle":"italic","align":"left"},"encoding":{"x":{"field":"x","type":"quantitative"},"y":{"field":"y","type":"quantitative"},"text":{"field":"t"}}},
 {"data":{"values":[{"x":374,"y":35000,"t":"(c)"}]},"mark":{"type":"text"},"encoding":{"x":{"field":"x","type":"quantitative"},"y":{"field":"y","type":"quantitative"},"text":{"field":"t"}}}
]},
{"width":126,"height":184,"data":{"name":"d"},"layer":[
 {"mark":{"type":"line","clip":true},"encoding":{
  "x":{"field":"x","type":"quantitative","scale":{"domain":[350,645],"nice":false,"zero":false},"axis":{"title":"Wavelength (nm)","tickCount":40,"values":[350,375,400,425,450,475,500,525,550,575,600,625],"labelExpr":"datum.value % 50 === 0 ? format(datum.value, 'd') : ''","tickSize":{"condition":{"test":"datum.value % 50 === 0","value":-5},"value":-3}}},
  "y":{"field":"y","type":"quantitative","scale":{"domain":[0,47000],"nice":false},"axis":{"title":"PL intensity (arb. units)","tickCount":40,"values":[0,10000,20000,30000,40000],"labelExpr":"datum.value === 0 ? '0' : (datum.value % 20000 === 0 ? (datum.value/1000) + 'k' : '')","tickSize":{"condition":{"test":"datum.value % 20000 === 0","value":-5},"value":-3}}},
  "color":{"field":"s","type":"nominal","scale":{"domain":["ITOnano/Glass","Adenine","Cytosine","Guanine","Thymine","Uracil"],"range":["#000000","#ff0000","#0000ff","#ff8000","#e040f0","#33ee33"]},"legend":{"orient":"top-left","offset":1,"symbolType":"M-1,0H3.05","symbolSize":55,"labelOffset":10.5,"labelFontSize":8.5}}}},
 {"data":{"values":[{"x":543,"y":36400,"t":"λ=335 nm"}]},"mark":{"type":"text","font":"Liberation Serif","fontStyle":"italic","align":"left"},"encoding":{"x":{"field":"x","type":"quantitative"},"y":{"field":"y","type":"quantitative"},"text":{"field":"t"}}},
 {"data":{"values":[{"x":626,"y":45000,"t":"(d)"}]},"mark":{"type":"text"},"encoding":{"x":{"field":"x","type":"quantitative"},"y":{"field":"y","type":"quantitative"},"text":{"field":"t"}}}
]},
{"width":126,"height":187,"data":{"name":"a2"},"layer":[
 {"mark":{"type":"line","clip":true},"encoding":{
  "x":{"field":"x","type":"quantitative","scale":{"domain":[450,750],"nice":false,"zero":false},"axis":{"title":"Wavelength (nm)","tickCount":40,"values":[450,475,500,525,550,575,600,625,650,675,700,725,750],"labelExpr":"datum.value % 50 === 0 ? format(datum.value, 'd') : ''","tickSize":{"condition":{"test":"datum.value % 50 === 0","value":-5},"value":-3}}},
  "y":{"field":"y","type":"quantitative","scale":{"domain":[0,37200],"nice":false},"axis":{"title":"PL intensity (arb. units)","tickCount":40,"values":[0,5000,10000,15000,20000,25000,30000,35000],"labelExpr":"datum.value === 0 ? '0' : (datum.value % 10000 === 0 ? (datum.value/1000) + 'k' : '')","tickSize":{"condition":{"test":"datum.value % 10000 === 0","value":-5},"value":-3}}},
  "color":{"field":"s","type":"nominal","scale":{"domain":["Si","Adenine","Cytosine","Guanine","Thymine","Uracil"],"range":["#000000","#ff0000","#0000ff","#ff8000","#e040f0","#33ee33"]},"legend":{"orient":"top-right","offset":8,"symbolType":"M-1,0H3.3","symbolSize":70,"labelOffset":12}}}},
 {"data":{"values":[{"x":610,"y":20000,"t":"λ=435 nm"}]},"mark":{"type":"text","font":"Liberation Serif","fontStyle":"italic","align":"left"},"encoding":{"x":{"field":"x","type":"quantitative"},"y":{"field":"y","type":"quantitative"},"text":{"field":"t"}}},
 {"data":{"values":[{"x":475,"y":35000,"t":"(a')"}]},"mark":{"type":"text"},"encoding":{"x":{"field":"x","type":"quantitative"},"y":{"field":"y","type":"quantitative"},"text":{"field":"t"}}}
]},
{"width":126,"height":187,"data":{"name":"b2"},"layer":[
 {"mark":{"type":"line","clip":true},"encoding":{
  "x":{"field":"x","type":"quantitative","scale":{"domain":[450,750],"nice":false,"zero":false},"axis":{"title":"Wavelength (nm)","tickCount":40,"values":[450,475,500,525,550,575,600,625,650,675,700,725,750],"labelExpr":"datum.value % 50 === 0 ? format(datum.value, 'd') : ''","tickSize":{"condition":{"test":"datum.value % 50 === 0","value":-5},"value":-3}}},
  "y":{"field":"y","type":"quantitative","scale":{"domain":[0,44600],"nice":false},"axis":{"title":"PL intensity (arb. units)","tickCount":40,"values":[0,7500,15000,22500,30000,37500],"labelExpr":"datum.value === 0 ? '0' : (datum.value % 15000 === 0 ? (datum.value/1000) + 'k' : '')","tickSize":{"condition":{"test":"datum.value % 15000 === 0","value":-5},"value":-3}}},
  "color":{"field":"s","type":"nominal","scale":{"domain":["Glass","Adenine","Cytosine","Guanine","Thymine","Uracil"],"range":["#000000","#ff0000","#0000ff","#ff8000","#e040f0","#33ee33"]},"legend":{"orient":"top-right","offset":5,"symbolType":"M-1,0H3.3","symbolSize":70,"labelOffset":12}}}},
 {"data":{"values":[{"x":632,"y":23800,"t":"λ=435 nm"}]},"mark":{"type":"text","font":"Liberation Serif","fontStyle":"italic","align":"left"},"encoding":{"x":{"field":"x","type":"quantitative"},"y":{"field":"y","type":"quantitative"},"text":{"field":"t"}}},
 {"data":{"values":[{"x":476,"y":41800,"t":"(b')"}]},"mark":{"type":"text"},"encoding":{"x":{"field":"x","type":"quantitative"},"y":{"field":"y","type":"quantitative"},"text":{"field":"t"}}}
]},
{"width":126,"height":187,"data":{"name":"c2"},"layer":[
 {"mark":{"type":"line","clip":true},"encoding":{
  "x":{"field":"x","type":"quantitative","scale":{"domain":[450,750],"nice":false,"zero":false},"axis":{"title":"Wavelength (nm)","tickCount":40,"values":[450,475,500,525,550,575,600,625,650,675,700,725,750],"labelExpr":"datum.value % 50 === 0 ? format(datum.value, 'd') : ''","tickSize":{"condition":{"test":"datum.value % 50 === 0","value":-5},"value":-3}}},
  "y":{"field":"y","type":"quantitative","scale":{"domain":[0,25200],"nice":false},"axis":{"title":"PL intensity (arb. units)","tickCount":40,"values":[0,5000,10000,15000,20000,25000],"labelExpr":"datum.value === 0 ? '0' : (datum.value % 10000 === 0 ? (datum.value/1000) + 'k' : '')","tickSize":{"condition":{"test":"datum.value % 10000 === 0","value":-5},"value":-3}}},
  "color":{"field":"s","type":"nominal","scale":{"domain":["ITO/Glass","Adenine","Cytosine","Guanine","Thymine","Uracil"],"range":["#000000","#ff0000","#0000ff","#ff8000","#e040f0","#33ee33"]},"legend":{"orient":"top-right","offset":3,"symbolType":"M-1,0H3.3","symbolSize":70,"labelOffset":12}}}},
 {"data":{"values":[{"x":621,"y":13100,"t":"λ=435 nm"}]},"mark":{"type":"text","font":"Liberation Serif","fontStyle":"italic","align":"left"},"encoding":{"x":{"field":"x","type":"quantitative"},"y":{"field":"y","type":"quantitative"},"text":{"field":"t"}}},
 {"data":{"values":[{"x":472,"y":23700,"t":"(c')"}]},"mark":{"type":"text"},"encoding":{"x":{"field":"x","type":"quantitative"},"y":{"field":"y","type":"quantitative"},"text":{"field":"t"}}}
]},
{"width":126,"height":187,"data":{"name":"d2"},"layer":[
 {"mark":{"type":"line","clip":true},"encoding":{
  "x":{"field":"x","type":"quantitative","scale":{"domain":[450,750],"nice":false,"zero":false},"axis":{"title":"Wavelength (nm)","tickCount":40,"values":[450,475,500,525,550,575,600,625,650,675,700,725,750],"labelExpr":"datum.value % 50 === 0 ? format(datum.value, 'd') : ''","tickSize":{"condition":{"test":"datum.value % 50 === 0","value":-5},"value":-3}}},
  "y":{"field":"y","type":"quantitative","scale":{"domain":[0,43200],"nice":false},"axis":{"title":"PL intensity (arb. units)","tickCount":40,"values":[0,5000,10000,15000,20000,25000,30000,35000,40000],"labelExpr":"datum.value === 0 ? '0' : (datum.value % 10000 === 0 ? (datum.value/1000) + 'k' : '')","tickSize":{"condition":{"test":"datum.value % 10000 === 0","value":-5},"value":-3}}},
  "color":{"field":"s","type":"nominal","scale":{"domain":["ITOnano/Glass","Adenine","Cytosine","Guanine","Thymine","Uracil"],"range":["#000000","#ff0000","#0000ff","#ff8000","#e040f0","#33ee33"]},"legend":{"orient":"top-right","offset":3,"symbolType":"M-1,0H3.3","symbolSize":70,"labelOffset":12}}}},
 {"data":{"values":[{"x":635,"y":19900,"t":"λ=435 nm"}]},"mark":{"type":"text","font":"Liberation Serif","fontStyle":"italic","align":"left"},"encoding":{"x":{"field":"x","type":"quantitative"},"y":{"field":"y","type":"quantitative"},"text":{"field":"t"}}},
 {"data":{"values":[{"x":472,"y":40600,"t":"(d')"}]},"mark":{"type":"text"},"encoding":{"x":{"field":"x","type":"quantitative"},"y":{"field":"y","type":"quantitative"},"text":{"field":"t"}}}
]}
]
}
